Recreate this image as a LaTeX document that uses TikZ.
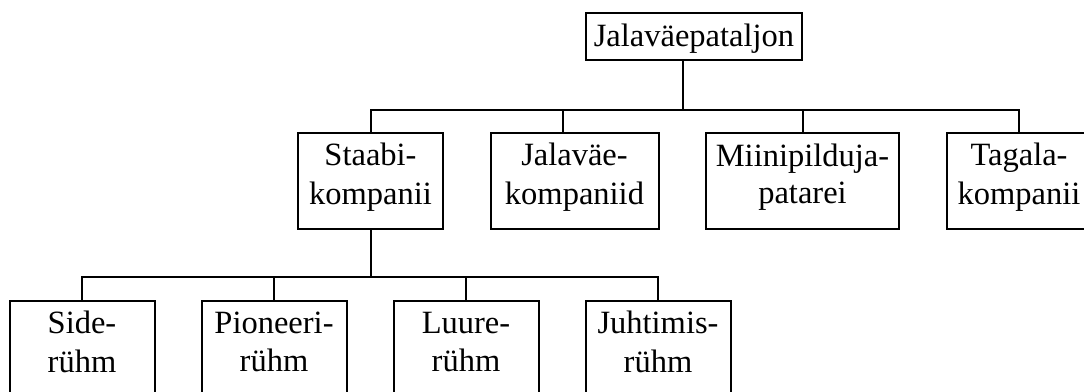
\documentclass[tikz,border=0pt]{standalone}
\usepackage{fontspec}
\setmainfont{Liberation Serif}
\usetikzlibrary{positioning,chains}

% line strut for two-line boxes
\newcommand{\ls}{\rule[-15pt]{0pt}{37pt}}

\begin{document}
\begin{tikzpicture}[x=1pt,y=-1pt,
  line width=2pt,
  box/.style={draw,rectangle,inner sep=0pt,outer sep=0pt,align=center,
    font=\fontsize{32.5}{37}\selectfont},
  unit/.style={box,minimum width=145pt,minimum height=96pt}
]
\useasboundingbox (0,0) rectangle (1084,391);
\clip (0,0) rectangle (1084,391);

% Battalion
\node[box,minimum width=216pt,minimum height=47pt,text height=26pt,text depth=7pt]
  (bat) at (694,36.5) {Jalaväepataljon};

% Companies
\begin{scope}[start chain=going right,node distance=47.5pt]
\node[unit,on chain] (st) at (370.5,181) {Staabi-\ls\\kompanii\ls};
\node[unit,on chain,minimum width=168pt] (jv) {Jalaväe-\ls\\kompaniid\ls};
\node[unit,on chain,minimum width=193pt] (mp) {Miinipilduja-\ls\\patarei\ls};
\node[unit,on chain] (tg) {Tagala-\ls\\kompanii\ls};
\end{scope}

% Platoons
\begin{scope}[start chain=going right,node distance=47pt]
\node[unit,on chain] (sr) at (82,349) {Side-\ls\\rühm\ls};
\foreach \n/\t in {pr/Pioneeri-,lr/Luure-,jr/Juhtimis-}
  \node[unit,on chain] (\n) {\t\ls\\rühm\ls};
\end{scope}

% Lines
\coordinate[below=49.5pt of bat.south] (b1);
\coordinate[below=48pt of st.south] (b2);
\draw ([xshift=-11pt]bat.south) -- ([xshift=-11pt]bat.south |- b1);
\draw (st.north) |- (b1) -| (tg.north);
\draw ([xshift=-12pt]jv.north) -- ([xshift=-12pt]jv.north |- b1);
\draw (mp.north) -- (mp.north |- b1);
\draw (st.south) -- (b2);
\draw (sr.north) |- (b2) -| (jr.north);
\foreach \n in {pr,lr}
  \draw (\n.north) -- (\n.north |- b2);
\end{tikzpicture}
\end{document}
